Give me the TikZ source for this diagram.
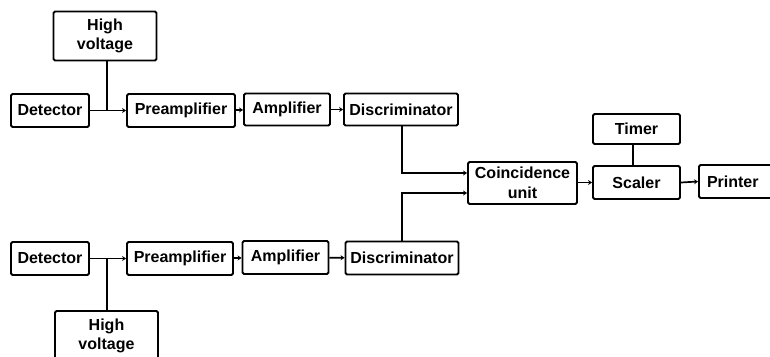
\documentclass[tikz,border=0pt]{standalone}
\usepackage{fontspec}
\setmainfont{Liberation Sans}
\usetikzlibrary{arrows.meta}
\begin{document}
\begin{tikzpicture}[x=1pt,y=-1pt,
  blk/.style={draw, line width=1.9pt, rounded corners=1.5pt, inner sep=0pt,
    align=center, font=\bfseries\fontsize{16}{19.5}\selectfont},
  wire/.style={line width=1.7pt},
  feed/.style={wire, -{Stealth[length=4pt,width=5pt]}}]
\useasboundingbox (0,0) rectangle (770,356);
% upper channel
\node[blk, minimum width=103pt, minimum height=49pt] (hvA) at (105,36) {High\\voltage};
\node[blk, minimum width=78pt, minimum height=33pt] (detA) at (50,110.5) {Detector};
\node[blk, minimum width=108pt, minimum height=33pt] (preA) at (181,110.5) {Preamplifier};
\node[blk, minimum width=86pt, minimum height=32pt] (ampA) at (287,109.5) {Amplifier};
\node[blk, minimum width=114pt, minimum height=32pt] (disA) at (401,109.5) {Discriminator};
% coincidence and counting chain
\node[blk, minimum width=109pt, minimum height=42pt] (coin) at (522.5,183) {Coincidence\\unit};
\node[blk, minimum width=87pt, minimum height=30pt] (timer) at (636.5,129) {Timer};
\node[blk, minimum width=87pt, minimum height=33pt] (scaler) at (636.5,182.5) {Scaler};
\node[blk, minimum width=92pt, minimum height=33pt, text width=80pt, align=left] (printer) at (745,181.5) {\hspace*{2pt}Printer};
% lower channel
\node[blk, minimum width=78pt, minimum height=33pt] (detB) at (50,258.5) {Detector};
\node[blk, minimum width=106pt, minimum height=33pt] (preB) at (180,258.5) {Preamplifier};
\node[blk, minimum width=86pt, minimum height=33pt] (ampB) at (285.5,257.5) {Amplifier};
\node[blk, minimum width=113pt, minimum height=33pt] (disB) at (402,258) {Discriminator};
\node[blk, minimum width=103pt, minimum height=50pt] (hvB) at (106.5,336) {High\\voltage};
% junction points
\coordinate (jA) at (107,110.5);
\coordinate (jB) at (107,258.5);
% connectors
\draw[feed] (detA.east) -- (preA.west);
\draw[wire] (hvA.south -| jA) -- (jA);
\draw[feed] (preA) -- (ampA);
\draw[feed] (ampA) -- (disA);
\draw[feed] (disA.south -| 402,0) |- (coin.west |- 0,173);
\draw[feed] (detB.east) -- (preB.west);
\draw[wire] (hvB.north -| jB) -- (jB);
\draw[feed] (preB) -- (ampB);
\draw[feed] (ampB) -- (disB);
\draw[feed] (disB.north -| 402,0) |- (coin.west |- 0,193);
\draw[feed] (coin.east |- scaler) -- (scaler.west);
\draw[wire] (timer.south -| 633,0) -- (scaler.north -| 633,0);
\draw[feed] (scaler.east) -- (printer.west);
\end{tikzpicture}
\end{document}
